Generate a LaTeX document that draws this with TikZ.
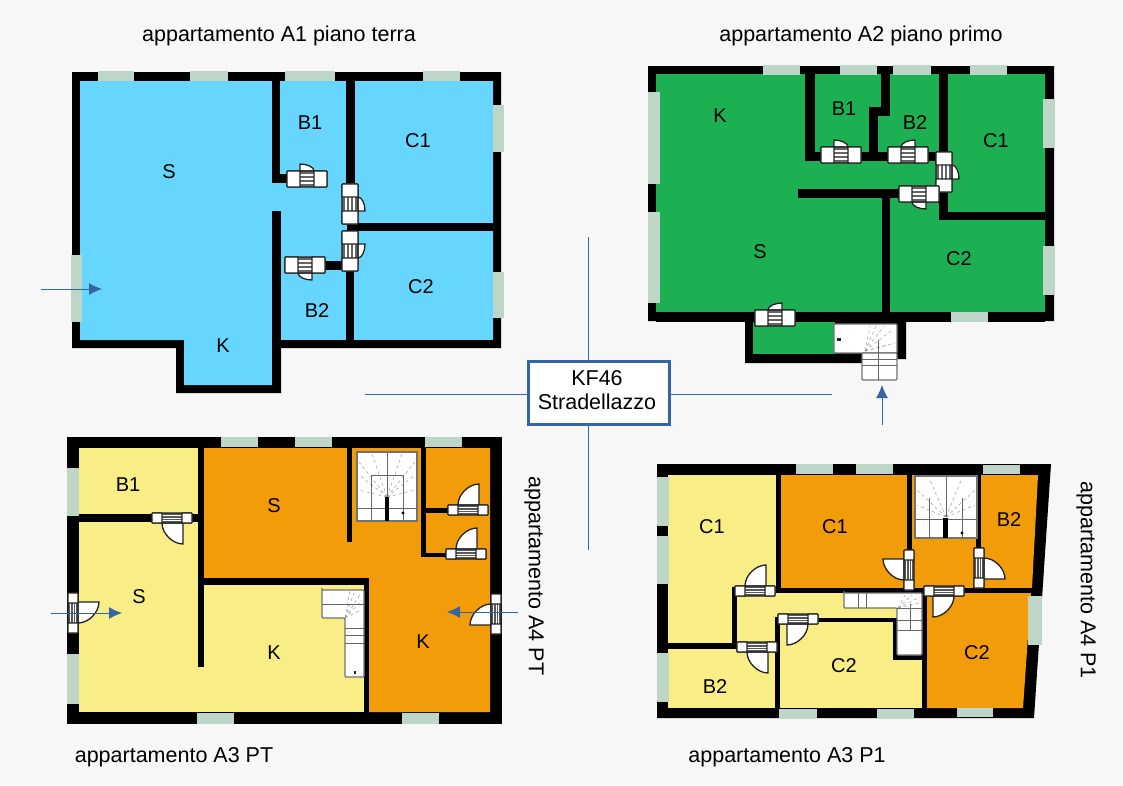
\documentclass[tikz,border=0pt]{standalone}
\usepackage{fontspec}
\setmainfont{Liberation Sans}
\usetikzlibrary{arrows.meta}
\definecolor{pagebg}{HTML}{F7F7F7}
\definecolor{roomblue}{HTML}{66D6FF}
\definecolor{roomgreen}{HTML}{1DB052}
\definecolor{roomyellow}{HTML}{F9EE85}
\definecolor{roomorange}{HTML}{F39C0A}
\definecolor{windowgrey}{HTML}{BDD6C8}
\definecolor{linkblue}{HTML}{3465A4}
\definecolor{doorline}{HTML}{222222}

% door with a short leaf: x, y, angle, xscale, yscale
\newcommand{\smalldoor}[5]{
    \begin{scope}[shift={(#1,#2)},rotate=#3,xscale=#4,yscale=#5]
        \draw[door] (-7,-8) -- (-7,-15) .. controls (0,-15) and (7,-12) .. (7,-8) -- cycle;
        \draw[door,fill=black!60,rounded corners=1pt] (-20,-8) rectangle (20,8);
        \foreach \s in {-4,0,4}
            \draw[white,line width=1.3pt] (-7,\s) -- (7,\s);
        \draw[door,rounded corners=.5pt] (-20,-8) rectangle (-7,8);
        \draw[door,rounded corners=.5pt] (7,-8) rectangle (20,8);
    \end{scope}
}
% door with a full leaf: x, y, angle, xscale, yscale
\newcommand{\bigdoor}[5]{
    \begin{scope}[shift={(#1,#2)},rotate=#3,xscale=#4,yscale=#5]
        \draw[door] (-11,-5) -- (-11,-26) .. controls (-1,-26) and (10,-16) .. (10,-5) -- cycle;
        \draw[door,fill=black!65,rounded corners=1pt] (-20,-5) rectangle (20,5);
        \foreach \s in {-2.5,0,2.5}
            \draw[white,line width=.7pt] (-10,\s) -- (10,\s);
        \draw[door,rounded corners=.5pt] (-20,-5) rectangle (-10,5);
        \draw[door,rounded corners=.5pt] (10,-5) rectangle (20,5);
    \end{scope}
}

\begin{document}
\begin{tikzpicture}[x=1pt,y=-1pt]
    \tikzstyle{wall}=[fill=black]
    \tikzstyle{window}=[fill=windowgrey]
    \tikzstyle{door}=[draw=doorline,fill=white,line width=1.3pt]
    \tikzstyle{stair}=[draw=black!55,fill=white,line width=1.2pt]
    \tikzstyle{stairline}=[draw=black!60,line width=.8pt]
    \tikzstyle{fan}=[draw=black!40,dashed,line width=.5pt]
    \tikzstyle{room}=[font=\fontsize{20}{24}\selectfont,inner sep=0pt,yshift=-1pt]
    \tikzstyle{caption}=[font=\fontsize{21.5}{26}\selectfont,inner sep=0pt]
    \tikzstyle{link}=[draw=linkblue,line width=1pt]
    \tikzstyle{entry}=[link,-{Latex[length=13pt,width=12pt]}]

    \useasboundingbox (0,0) rectangle (1123,785);
    \fill[pagebg] (0,0) rectangle (1123,785);

    % appartamento A1
    \fill[wall] (72,72) -| (501,348) -| (281,393) -| (176,348) -| cycle;
    \fill[roomblue] (80,81) -| (493,340) -| (273,385) -| (184,340) -| cycle;
    \foreach \xa/\ya/\xb/\yb in {272/81/280/183, 272/174/290/183, 346/81/355/183, 347/223/493/231,
        272/211/281/385, 325/261/350/270, 346/268/354/340, 273/340/493/348}
        \fill[wall] (\xa,\ya) rectangle (\xb,\yb);
    \foreach \xa/\ya/\xb/\yb in {98/71/134/81, 190/71/228/81, 285/71/335/81, 423/71/460/81,
        493/105/504/152, 493/272/504/318, 71/255/82/322}
        \fill[window] (\xa,\ya) rectangle (\xb,\yb);
    \smalldoor{307}{179}{0}{1}{1}
    \smalldoor{350}{204}{-90}{-1}{1}
    \smalldoor{350}{251}{-90}{1}{1}
    \smalldoor{305}{265}{0}{-1}{-1}
    \foreach \lab/\x/\y in {S/169/171,B1/310/122,C1/418/140,B2/317/310,C2/421/286,K/223/345}
        \node[room] (A1-\lab) at (\x,\y) {\lab};

    % appartamento A2
    \fill[wall] (648,66) -| (1054,321) -| (906,359) -| (862,363) -| (745,321) -| cycle;
    \fill[roomgreen] (656,74) -| (1045,312) -| (656,312) -- cycle;
    \fill[roomgreen] (753,322) rectangle (835,354);
    \foreach \xa/\ya/\xb/\yb in {805/74/815/161, 805/152/940/161, 881/74/890/116, 869/107/890/116, 869/107/878/152,
        939/74/948/153, 939/188/948/220, 940/212/1045/220, 798/189/900/198, 882/189/890/314, 656/312/1045/322}
        \fill[wall] (\xa,\ya) rectangle (\xb,\yb);
    \foreach \xa/\ya/\xb/\yb in {763/65/800/75, 840/65/877/75, 893/65/931/75, 970/65/1007/75,
        648/92/660/184, 648/212/660/303, 1043/99/1055/148, 1043/246/1055/295, 951/312/988/322}
        \fill[window] (\xa,\ya) rectangle (\xb,\yb);
    % stair at the entrance
    \draw[stair,rounded corners=1pt] (834,324) rectangle (897,353);
    \draw[stair,rounded corners=1pt] (862,353) rectangle (897,380);
    \foreach \xa/\ya in {870/326,876/326,884/326,892/330,895/343,888/345}
        \draw[fan] (865,351) -- (\xa,\ya);
    \draw[stairline] (862,359) -- (897,359);
    \draw[stairline] (862,365) -- (897,365);
    \draw[stairline] (878,340) -- (878,380);
    \fill[doorline] (837,338) rectangle (841,341);
    \smalldoor{841}{155}{0}{1}{1}
    \smalldoor{908}{155}{0}{-1}{1}
    \smalldoor{944}{172}{-90}{-1}{1}
    \smalldoor{919}{194}{0}{-1}{-1}
    \smalldoor{775}{318}{0}{-1}{1}
    \foreach \lab/\x/\y in {K/720/115,B1/844/108,B2/915/122,C1/996/140,S/760/251,C2/959/258}
        \node[room] (A2-\lab) at (\x,\y) {\lab};

    % appartamenti A3 e A4, piano terra
    \fill[wall] (67,437) rectangle (502,724);
    \fill[roomyellow] (79,448) rectangle (490,712);
    \fill[roomorange] (204,448) -| (490,712) -| (369,580) -| cycle;
    \foreach \xa/\ya/\xb/\yb in {79/514/152/522, 192/514/204/522, 198/448/204/667, 198/578/369/585, 364/578/369/712,
        347/448/352/542, 421/448/426/557, 426/508/450/513, 421/553/450/557}
        \fill[wall] (\xa,\ya) rectangle (\xb,\yb);
    \foreach \xa/\ya/\xb/\yb in {221/437/258/447, 295/437/332/447, 425/437/462/447, 197/713/234/724, 402/713/439/724,
        67/468/79/516, 67/654/79/704}
        \fill[window] (\xa,\ya) rectangle (\xb,\yb);
    % stair of A4
    \draw[stair] (357,452) rectangle (417,521);
    \foreach \xa/\ya in {359/475,359/490,372/454,387/454,402/454,415/475,415/490,359/462,415/462}
        \draw[fan] (387,497) -- (\xa,\ya);
    \draw[stairline] (371,508) |- (403,475) -- (403,521);
    \draw[stairline] (371,521) -- (371,475);
    \draw[stairline] (357,508) -- (417,508);
    \draw[stairline] (387,452) -- (387,497);
    \fill[wall] (385,497) rectangle (389,521);
    \fill[wall] (403,513) circle (1.6);
    % stair of A3
    \draw[stair,rounded corners=1pt] (322,590) -| (364,677) -| (345,618) -| cycle;
    \foreach \xa/\ya in {350/590,355/590,361/593,362/600,361/610}
        \draw[fan] (345,618) -- (\xa,\ya);
    \draw[stairline] (322,604) -- (364,604);
    \foreach \y in {628,635,643}
        \draw[stairline] (345,\y) -- (364,\y);
    \fill[doorline] (354,671) rectangle (356,674);
    \bigdoor{468}{510}{0}{-1}{1}
    \bigdoor{466}{554}{0}{-1}{1}
    \bigdoor{496}{614}{90}{1}{1}
    \bigdoor{172}{518}{0}{-1}{-1}
    \bigdoor{73}{613}{-90}{1}{1}
    \foreach \lab/\x/\y in {B1/128/484,S/139/596,K/274/652}
        \node[room] (A3-\lab) at (\x,\y) {\lab};
    \foreach \lab/\x/\y in {S/274/505,K/423/641}
        \node[room] (A4-\lab) at (\x,\y) {\lab};

    % appartamenti A3 e A4, piano primo
    \fill[wall] (657,464) -- (1051,464) -- (1034,718) -- (657,718) -- cycle;
    \fill[roomyellow] (668,475) rectangle (1000,708);
    \fill[roomorange] (781,475) -- (1038,475) -- (1032,588) -- (781,588) -- cycle;
    \fill[roomorange] (927,593) -- (1031,593) -- (1023,708) -- (927,708) -- cycle;
    \foreach \xa/\ya/\xb/\yb in {776/474/781/590, 776/588/1033/593, 907/474/912/553, 976/474/981/550, 732/587/737/648,
        668/643/740/649, 775/617/780/710, 816/618/897/622, 893/618/898/660, 893/655/927/660, 922/590/927/709}
        \fill[wall] (\xa,\ya) rectangle (\xb,\yb);
    \foreach \xa/\ya/\xb/\yb in {796/464/833/474, 856/464/893/474, 983/465/1020/474, 779/709/817/719, 877/709/914/719, 957/708/993/717,
        657/477/669/526, 657/536/669/584, 657/653/669/702, 1028/596/1042/645}
        \fill[window] (\xa,\ya) rectangle (\xb,\yb);
    % stair of A4
    \draw[stair] (915,476) rectangle (977,538);
    \foreach \xa/\ya in {917/490,917/505,929/478,946/478,962/478,975/490,975/505}
        \draw[fan] (946,517) -- (\xa,\ya);
    \draw[stairline] (915,519) -- (977,519);
    \draw[stairline] (929,498) -- (929,538);
    \draw[stairline] (962,498) -- (962,538);
    \draw[stairline] (946,476) -- (946,517);
    \fill[wall] (943,518) rectangle (948,538);
    \fill[wall] (962,533) circle (1.6);
    % stair of A3
    \draw[stair,rounded corners=1pt] (844,593) -| (922,655) -| (897,608) -| cycle;
    \foreach \xa/\ya in {905/595,912/595,920/597,920/603}
        \draw[fan] (898,608) -- (\xa,\ya);
    \draw[stairline] (858,593) -- (858,608);
    \draw[stairline] (866,593) -- (866,608);
    \draw[stairline] (897,608) -- (922,608);
    \draw[stairline] (897,620) -- (922,620);
    \draw[stairline] (910,604) -- (910,630);
    \draw[stairline] (897,630) -- (922,630);
    \bigdoor{909}{570}{90}{-1}{1}
    \bigdoor{979}{568}{-90}{-1}{1}
    \bigdoor{944}{591}{0}{1}{-1}
    \bigdoor{755}{591}{0}{-1}{1}
    \bigdoor{757}{647}{0}{-1}{-1}
    \bigdoor{798}{619}{0}{1}{-1}
    \foreach \lab/\x/\y in {C1/712/526,C2/844/665,B2/715/686}
        \node[room] (P1A3-\lab) at (\x,\y) {\lab};
    \foreach \lab/\x/\y in {C1/835/526,B2/1009/519,C2/977/652}
        \node[room] (P1A4-\lab) at (\x,\y) {\lab};

    % captions
    \node[caption] (capA1) at (279,36) {appartamento A1 piano terra};
    \node[caption] (capA2) at (861,36) {appartamento A2 piano primo};
    \node[caption] (capPT) at (174,757) {appartamento A3 PT};
    \node[caption] (capP1) at (787,757) {appartamento A3 P1};
    \node[caption,rotate=-90] (capPTr) at (534,576) {appartamento A4 PT};
    \node[caption,rotate=-90] (capP1r) at (1086,580) {appartamento A4 P1};

    % centre of the cross
    \coordinate (crossN) at (588,237);
    \coordinate (crossS) at (588,550);
    \coordinate (crossW) at (365,394);
    \coordinate (crossE) at (832,394);
    \node[draw=linkblue,line width=3pt,fill=white,minimum width=141pt,minimum height=63pt,inner sep=0pt] (kf) at (598.5,392.5) {};
    \node[align=center,inner sep=0pt,font=\fontsize{21.5}{24}\selectfont] (kflabel) at (597,390) {KF46\\Stradellazzo};
    \draw[link] (kf.north -| crossN) -- (crossN);
    \draw[link] (kf.south -| crossS) -- (crossS);
    \draw[link] (kf.west |- crossW) -- (crossW);
    \draw[link] (kf.east |- crossE) -- (crossE);

    % entrances
    \foreach \name/\xa/\ya/\xb/\yb in {a/41/289/102/289, b/882/425/882/385, c/51/613/122/613, d/518/612/447/612} {
        \coordinate (from-\name) at (\xa,\ya);
        \coordinate (to-\name) at (\xb,\yb);
        \draw[entry] (from-\name) -- (to-\name);
    }
\end{tikzpicture}
\end{document}
